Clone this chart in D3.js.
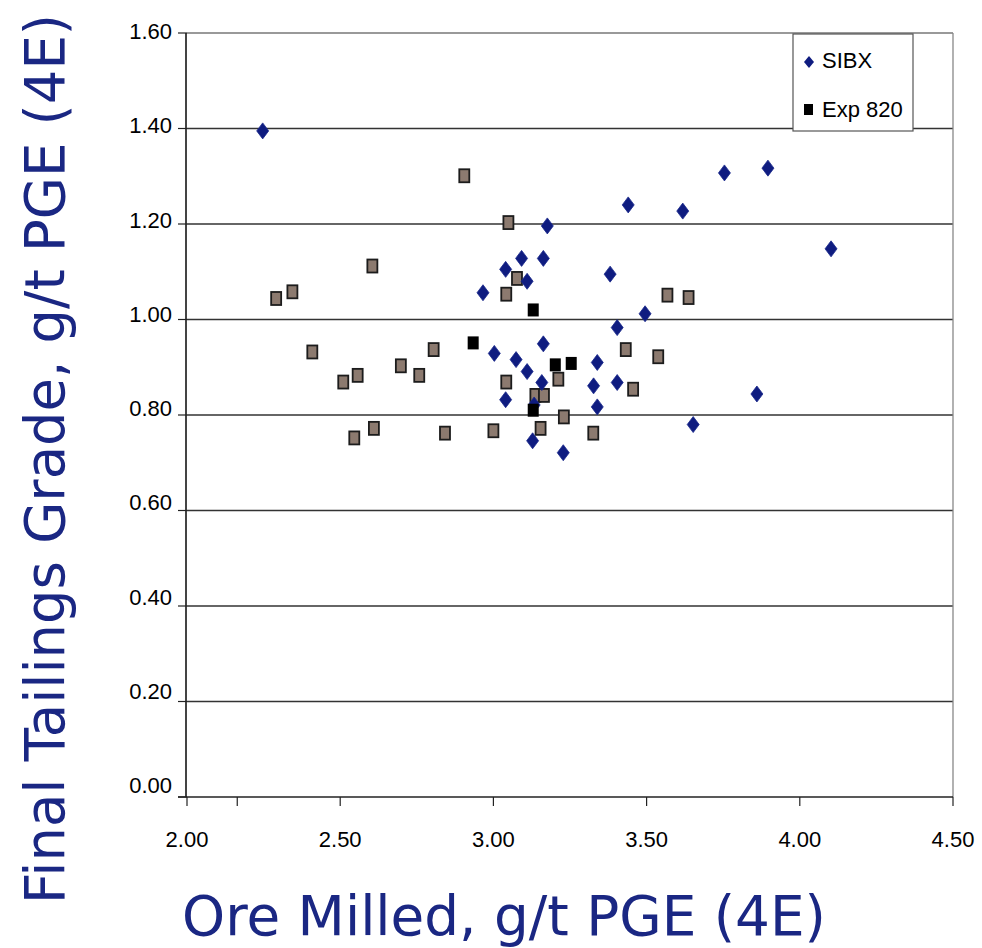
<!DOCTYPE html>
<html>
<head>
<meta charset="utf-8">
<script src="https://cdnjs.cloudflare.com/ajax/libs/d3/7.8.5/d3.min.js"></script>
<style>
  body { margin: 0; background: #fff; }
  .tick-label { font-family: "Liberation Sans", Arial, sans-serif; font-size: 22px; fill: #000; }
  .legend-label { font-family: "Liberation Sans", Arial, sans-serif; font-size: 22px; fill: #000; }
  .title { font-family: "DejaVu Sans", Verdana, sans-serif; fill: #1a2783; }
</style>
</head>
<body>
<div id="chart-container"></div>
<script>
var xTicks = [2.00, 2.50, 3.00, 3.50, 4.00, 4.50];
var yTicks = [0.00, 0.20, 0.40, 0.60, 0.80, 1.00, 1.20, 1.40, 1.60];

// SIBX (blue diamonds)
var sibxX = [2.247, 3.896, 3.754, 3.440, 3.618, 3.176, 4.102, 3.092, 3.163, 3.040,
             3.381, 3.110, 2.966, 3.495, 3.404, 3.163, 3.003, 3.074, 3.110, 3.339,
             3.158, 3.327, 3.404, 3.040, 3.339, 3.128, 3.228, 3.652, 3.860, 3.133];
var sibxY = [1.395, 1.317, 1.307, 1.240, 1.227, 1.196, 1.148, 1.128, 1.128, 1.105,
             1.095, 1.080, 1.056, 1.012, 0.983, 0.949, 0.929, 0.916, 0.891, 0.910,
             0.868, 0.861, 0.868, 0.832, 0.817, 0.746, 0.721, 0.780, 0.844, 0.821];

// unlabelled series (brown squares)
var otherX = [2.291, 2.344, 2.605, 2.409, 2.510, 2.557, 2.698, 2.758, 2.805, 2.546,
              2.610, 2.842, 2.905, 3.049, 3.077, 3.042, 3.568, 3.637, 3.432, 3.538,
              3.042, 3.212, 3.456, 3.137, 3.165, 3.230, 3.000, 3.154, 3.326];
var otherY = [1.044, 1.058, 1.112, 0.932, 0.869, 0.883, 0.903, 0.883, 0.937, 0.752,
              0.772, 0.762, 1.301, 1.203, 1.086, 1.053, 1.051, 1.046, 0.937, 0.922,
              0.869, 0.875, 0.854, 0.841, 0.841, 0.796, 0.767, 0.772, 0.762];

// Exp 820 (black squares)
var expX = [2.934, 3.130, 3.202, 3.254, 3.130];
var expY = [0.951, 1.020, 0.905, 0.908, 0.810];

var legendNames = ['SIBX', 'Exp 820'];

function pairs(xs, ys) {
    return xs.map(function(d, i) { return { x: d, y: ys[i] }; });
}

var x = d3.scaleLinear().domain([2.0, 4.5]).range([187, 953]);
var y = d3.scaleLinear().domain([0, 1.6]).range([797, 33]);
// tick labels in the original drift slightly against the gridlines
var yLabel = d3.scaleLinear().domain([0, 1.6]).range([793, 39]);

var svg = d3.select('#chart-container')
            .append('svg')
            .attr('width', 982)
            .attr('height', 948);

// gridlines
svg.selectAll('line.grid')
   .data(yTicks.filter(function(d) { return d > 0; }))
   .enter()
   .append('line')
     .attr('class', 'grid')
     .attr('x1', x(2.0))
     .attr('x2', x(4.5))
     .attr('y1', function(d) { return y(d); })
     .attr('y2', function(d) { return y(d); })
     .attr('stroke', function(d) { return d === 1.6 ? '#777' : '#333'; })
     .attr('stroke-width', 1.3);

// right border
svg.append('line')
   .attr('x1', x(4.5)).attr('x2', x(4.5))
   .attr('y1', y(1.6)).attr('y2', y(0))
   .attr('stroke', '#888')
   .attr('stroke-width', 1.3);

// y axis
svg.append('line')
   .attr('x1', x(2.0) - 1).attr('x2', x(2.0) - 1)
   .attr('y1', y(1.6)).attr('y2', y(0))
   .attr('stroke', '#444')
   .attr('stroke-width', 2);

svg.selectAll('line.ytick')
   .data(yTicks)
   .enter()
   .append('line')
     .attr('x1', x(2.0) - 9)
     .attr('x2', x(2.0))
     .attr('y1', function(d) { return y(d); })
     .attr('y2', function(d) { return y(d); })
     .attr('stroke', '#222')
     .attr('stroke-width', 1.2);

svg.selectAll('text.ylab')
   .data(yTicks)
   .enter()
   .append('text')
     .attr('class', 'tick-label')
     .attr('x', 172)
     .attr('y', function(d) { return yLabel(d); })
     .attr('text-anchor', 'end')
     .text(function(d) { return d3.format('.2f')(d); });

// x axis
svg.append('line')
   .attr('x1', x(2.0) - 9).attr('x2', x(4.5))
   .attr('y1', y(0)).attr('y2', y(0))
   .attr('stroke', '#222')
   .attr('stroke-width', 1.6);

svg.selectAll('line.xtick')
   .data(xTicks.concat([2.164]))
   .enter()
   .append('line')
     .attr('x1', function(d) { return x(d); })
     .attr('x2', function(d) { return x(d); })
     .attr('y1', y(0))
     .attr('y2', y(0) + 9)
     .attr('stroke', '#222')
     .attr('stroke-width', 1.2);

svg.selectAll('text.xlab')
   .data(xTicks)
   .enter()
   .append('text')
     .attr('class', 'tick-label')
     .attr('x', function(d) { return x(d); })
     .attr('y', 847)
     .attr('text-anchor', 'middle')
     .text(function(d) { return d3.format('.2f')(d); });

// brown squares
svg.selectAll('rect.other')
   .data(pairs(otherX, otherY))
   .enter()
   .append('rect')
     .attr('x', function(d) { return x(d.x) - 5; })
     .attr('y', function(d) { return y(d.y) - 6.5; })
     .attr('width', 10)
     .attr('height', 13)
     .attr('fill', '#8c7a6f')
     .attr('stroke', '#1c1c1c')
     .attr('stroke-width', 1.8);

// SIBX diamonds
var diamond = 'M0,-8L6,0L0,8L-6,0Z';
svg.selectAll('path.sibx')
   .data(pairs(sibxX, sibxY))
   .enter()
   .append('path')
     .attr('d', diamond)
     .attr('transform', function(d) { return 'translate(' + x(d.x) + ',' + y(d.y) + ')'; })
     .attr('fill', '#0f1c80')
     .attr('stroke', '#1a2a8c')
     .attr('stroke-width', 0.8);

// Exp 820 squares
svg.selectAll('rect.exp')
   .data(pairs(expX, expY))
   .enter()
   .append('rect')
     .attr('x', function(d) { return x(d.x) - 5.5; })
     .attr('y', function(d) { return y(d.y) - 6.5; })
     .attr('width', 11)
     .attr('height', 13)
     .attr('fill', '#000');

// legend
var legend = svg.append('g').attr('transform', 'translate(793,34)');
legend.append('rect')
      .attr('width', 120)
      .attr('height', 97)
      .attr('fill', '#fff')
      .attr('stroke', '#555')
      .attr('stroke-width', 1.2);
legend.append('path')
      .attr('d', 'M0,-6L5,0L0,6L-5,0Z')
      .attr('transform', 'translate(16,28)')
      .attr('fill', '#0f1c80');
legend.append('rect')
      .attr('x', 11).attr('y', 70)
      .attr('width', 9).attr('height', 11)
      .attr('fill', '#000');
legend.selectAll('text')
      .data(legendNames)
      .enter()
      .append('text')
        .attr('class', 'legend-label')
        .attr('x', 29)
        .attr('y', function(d, i) { return 34 + i * 49; })
        .text(function(d) { return d; });

// axis titles
svg.append('text')
   .attr('class', 'title')
   .attr('x', 504)
   .attr('y', 935)
   .attr('text-anchor', 'middle')
   .attr('font-size', 56)
   .attr('textLength', 644)
   .attr('lengthAdjust', 'spacingAndGlyphs')
   .text('Ore Milled, g/t PGE (4E)');

svg.append('text')
   .attr('class', 'title')
   .attr('transform', 'translate(64,459) rotate(-90)')
   .attr('text-anchor', 'middle')
   .attr('font-size', 55)
   .attr('textLength', 890)
   .attr('lengthAdjust', 'spacingAndGlyphs')
   .text('Final Tailings Grade, g/t PGE (4E)');
</script>
</body>
</html>
